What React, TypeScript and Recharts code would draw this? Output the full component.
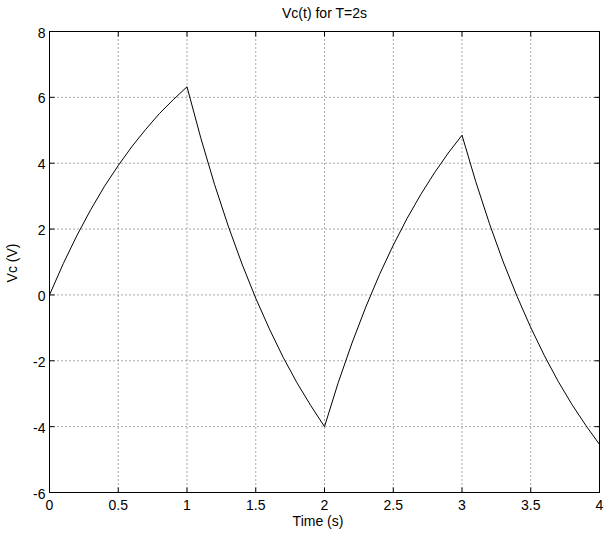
import React from "react";
import {
  LineChart,
  Line,
  XAxis,
  YAxis,
  CartesianGrid,
  ReferenceArea,
} from "recharts";

// sample times (s) and capacitor voltage (V)
const time = [
  0, 0.1, 0.2, 0.3, 0.4, 0.5, 0.6, 0.7, 0.8, 0.9, 1.0,
  1.1, 1.2, 1.3, 1.4, 1.5, 1.6, 1.7, 1.8, 1.9, 2.0,
  2.1, 2.2, 2.3, 2.4, 2.5, 2.6, 2.7, 2.8, 2.9, 3.0,
  3.1, 3.2, 3.3, 3.4, 3.5, 3.6, 3.7, 3.8, 3.9, 4.0,
];
const vc = [
  0, 0.95, 1.81, 2.59, 3.3, 3.93, 4.51, 5.03, 5.51, 5.93, 6.32,
  4.77, 3.36, 2.09, 0.94, -0.1, -1.04, -1.9, -2.67, -3.36, -4.0,
  -2.66, -1.46, -0.37, 0.62, 1.51, 2.32, 3.05, 3.71, 4.31, 4.85,
  3.44, 2.16, 1.0, -0.04, -0.99, -1.85, -2.63, -3.33, -3.96, -4.54,
];
const xTicks = [0, 0.5, 1, 1.5, 2, 2.5, 3, 3.5, 4];
const yTicks = [-6, -4, -2, 0, 2, 4, 6, 8];

const data = time.map((t, i) => ({ t, v: vc[i] }));

const W = 605;
const H = 533;
const M = { top: 31.5, right: 5.5, left: 0, bottom: 0 };
const Y_AXIS_W = 49.5;
const X_AXIS_H = 40.5;
const PLOT_LEFT = M.left + Y_AXIS_W;
const PLOT_RIGHT = W - M.right;
const PLOT_TOP = M.top;
const PLOT_BOTTOM = H - X_AXIS_H;
const TICK_LEN = 5;

const FONT = "'Liberation Sans', Arial, Helvetica, sans-serif";
const FONT_SIZE = 14;

// matlab-style ticks: pointing inward on both opposite edges of the box
const XTick = (props: any) => {
  const { x, payload } = props;
  return (
    <g>
      <line x1={x} x2={x} y1={PLOT_BOTTOM} y2={PLOT_BOTTOM - TICK_LEN} stroke="#000" />
      <line x1={x} x2={x} y1={PLOT_TOP} y2={PLOT_TOP + TICK_LEN} stroke="#000" />
      <text
        x={x}
        y={PLOT_BOTTOM + 12}
        textAnchor="middle"
        dominantBaseline="central"
        fontFamily={FONT}
        fontSize={FONT_SIZE}
        fill="#000"
      >
        {payload.value}
      </text>
    </g>
  );
};

const YTick = (props: any) => {
  const { y, payload } = props;
  return (
    <g>
      <line x1={PLOT_LEFT} x2={PLOT_LEFT + TICK_LEN} y1={y} y2={y} stroke="#000" />
      <line x1={PLOT_RIGHT} x2={PLOT_RIGHT - TICK_LEN} y1={y} y2={y} stroke="#000" />
      <text
        x={PLOT_LEFT - 4}
        y={y + 1}
        textAnchor="end"
        dominantBaseline="central"
        fontFamily={FONT}
        fontSize={FONT_SIZE}
        fill="#000"
      >
        {payload.value}
      </text>
    </g>
  );
};

export default function App() {
  return (
    <div
      style={{
        position: "absolute",
        left: 0,
        top: 0,
        width: W,
        height: H,
        background: "#fff",
        fontFamily: FONT,
        fontSize: FONT_SIZE,
        color: "#000",
      }}
    >
      <LineChart width={W} height={H} data={data} margin={M}>
        <CartesianGrid stroke="#555" strokeDasharray="1 3" />
        <XAxis
          type="number"
          dataKey="t"
          domain={[0, 4]}
          ticks={xTicks}
          interval={0}
          height={X_AXIS_H}
          axisLine={false}
          tickLine={false}
          tick={<XTick />}
        />
        <YAxis
          type="number"
          domain={[-6, 8]}
          ticks={yTicks}
          interval={0}
          width={Y_AXIS_W}
          axisLine={false}
          tickLine={false}
          tick={<YTick />}
        />
        <ReferenceArea
          x1={0}
          x2={4}
          y1={-6}
          y2={8}
          fill="none"
          fillOpacity={0}
          stroke="#000"
          strokeWidth={1}
        />
        <Line
          type="linear"
          dataKey="v"
          stroke="#000"
          strokeWidth={1}
          dot={false}
          activeDot={false}
          isAnimationActive={false}
        />
      </LineChart>

      <div
        style={{
          position: "absolute",
          left: PLOT_LEFT,
          width: PLOT_RIGHT - PLOT_LEFT,
          top: 5,
          lineHeight: "16px",
          textAlign: "center",
        }}
      >
        Vc(t) for T=2s
      </div>
      <div
        style={{
          position: "absolute",
          left: 268,
          width: 100,
          top: 513,
          lineHeight: "16px",
          textAlign: "center",
        }}
      >
        Time (s)
      </div>
      <div
        style={{
          position: "absolute",
          left: 12 - 40,
          top: 263 - 8,
          width: 80,
          lineHeight: "16px",
          textAlign: "center",
          transform: "rotate(-90deg)",
        }}
      >
        Vc (V)
      </div>
    </div>
  );
}
